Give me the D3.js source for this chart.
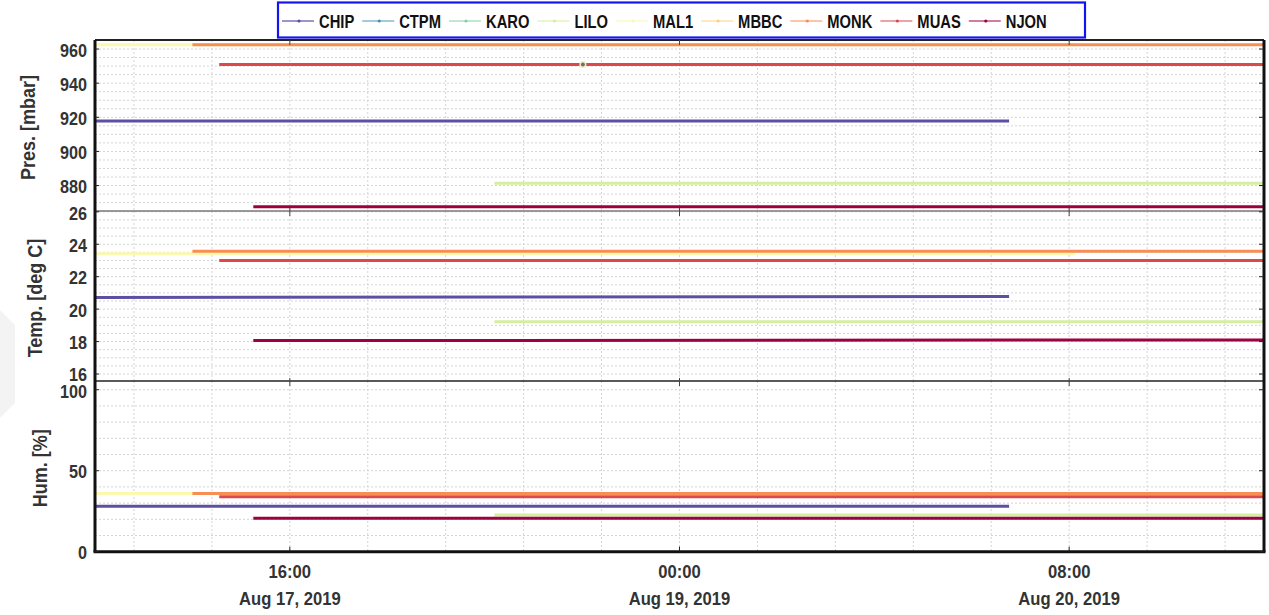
<!DOCTYPE html>
<html>
<head>
<meta charset="utf-8">
<script src="https://cdn.jsdelivr.net/npm/d3@7"></script>
<style>
  html, body { margin: 0; padding: 0; background: #fff; }
  svg { display: block; }
  text { font-family: "Liberation Sans", Arial, sans-serif; font-weight: bold; }
</style>
</head>
<body>
<svg id="chart" width="1269" height="615"></svg>
<script>
// ---- station data -------------------------------------------------------
const stations = ["CHIP", "CTPM", "KARO", "LILO", "MAL1", "MBBC", "MONK", "MUAS", "NJON"];

// first / last logged sample per station (null = nothing logged in window)
const firstTime = ["2019-08-18T12:00", null, null, "2019-08-18T20:12", "2019-08-18T12:00", null, "2019-08-18T14:00", "2019-08-18T14:33", "2019-08-18T15:15"];
const lastTime  = ["2019-08-19T06:46", null, null, "2019-08-19T12:00", "2019-08-19T08:07", null, "2019-08-19T12:00", "2019-08-19T12:00", "2019-08-19T12:00"];

// pressure [mbar] at first / last sample
const presFirst = [917.8, null, null, 881.3, 962.5, null, 962.5, 951.0, 867.6];
const presLast  = [917.8, null, null, 881.3, 962.5, null, 962.5, 951.0, 867.6];

// temperature [deg C] at first / last sample
const tempFirst = [20.72, null, null, 19.23, 23.41, null, 23.57, 23.0, 18.06];
const tempLast  = [20.78, null, null, 19.23, 23.41, null, 23.57, 23.0, 18.1];

// relative humidity [%] at first / last sample
const humFirst = [28.0, null, null, 22.7, 36.0, null, 36.0, 34.0, 20.6];
const humLast  = [28.0, null, null, 22.7, 36.0, null, 36.0, 34.0, 20.6];

// single highlighted sample on the pressure panel
const markerTime = ["2019-08-18T22:01"];
const markerPres = [951.0];

// axis ticks
const timeTicks = ["2019-08-18T16:00", "2019-08-19T00:00", "2019-08-19T08:00"];
const timeTickLabels = ["16:00", "00:00", "08:00"];
const dateTickLabels = ["Aug 17, 2019", "Aug 19, 2019", "Aug 20, 2019"];
const presTicks = [880, 900, 920, 940, 960];
const tempTicks = [16, 18, 20, 22, 24, 26];
const humTicks = [0, 50, 100];

// ---- layout -------------------------------------------------------------
const W = 1269, H = 615;
const plotLeft = 95, plotRight = 1264;
const panelTop = [40, 211, 381];
const panelBottom = [211, 381, 551.7];

const parse = d3.isoParse;
const x = d3.scaleTime()
  .domain([parse("2019-08-18T12:00"), parse("2019-08-19T12:00")])
  .range([plotLeft, plotRight]);

const panels = [
  { title: "Pres. [mbar]", first: presFirst, last: presLast, ticks: presTicks, minor: 5,
    y: d3.scaleLinear().domain([865.1, 965.3]).range([panelBottom[0], panelTop[0]]), titleX: 35 },
  { title: "Temp. [deg C]", first: tempFirst, last: tempLast, ticks: tempTicks, minor: 0.5,
    y: d3.scaleLinear().domain([15.57, 26.05]).range([panelBottom[1], panelTop[1]]), titleX: 42 },
  { title: "Hum. [%]", first: humFirst, last: humLast, ticks: humTicks, minor: 10,
    y: d3.scaleLinear().domain([0, 105.4]).range([panelBottom[2], panelTop[2]]), titleX: 47 }
];

const colors = d3.quantize(t => d3.interpolateSpectral(1 - t), stations.length);

const svg = d3.select("#chart");

// faint backdrop shape at the left edge
svg.append("polygon")
  .attr("points", [[0, 310], [15, 325], [15, 403], [0, 418]].map(p => p.join(",")).join(" "))
  .attr("fill", "#f3f3f3");

// helper: text squeezed horizontally
function label(parent, txt, px, py, size, sx, anchor, fill, rotate) {
  const g = parent.append("g")
    .attr("transform", `translate(${px},${py})` + (rotate ? ` rotate(${rotate})` : "") + ` scale(${sx},1)`);
  g.append("text")
    .attr("font-size", size)
    .attr("text-anchor", anchor)
    .attr("fill", fill)
    .text(txt);
  return g;
}

// ---- grid ---------------------------------------------------------------
const grid = svg.append("g").attr("stroke", "#d4d4d4").attr("stroke-width", 1)
  .attr("stroke-dasharray", "2,2").attr("fill", "none");

// vertical grid every 96 minutes, aligned on the labelled ticks
const gridStep = 96 * 60 * 1000;
const anchorT = parse(timeTicks[0]).getTime();
const vGrid = [];
for (let t = anchorT - gridStep * 10; t < x.domain()[1].getTime(); t += gridStep) {
  if (t > x.domain()[0].getTime()) vGrid.push(new Date(t));
}
panels.forEach((p, i) => {
  grid.selectAll(null).data(vGrid).join("line")
    .attr("x1", d => x(d)).attr("x2", d => x(d))
    .attr("y1", panelTop[i]).attr("y2", panelBottom[i]);
  const [lo, hi] = p.y.domain();
  const hVals = d3.range(Math.ceil(lo / p.minor) * p.minor, hi, p.minor);
  grid.selectAll(null).data(hVals).join("line")
    .attr("x1", plotLeft).attr("x2", plotRight)
    .attr("y1", d => p.y(d)).attr("y2", d => p.y(d));
});

// ---- series -------------------------------------------------------------
const lineGen = d3.line();
panels.forEach(p => {
  const g = svg.append("g");
  stations.forEach((s, k) => {
    if (firstTime[k] === null) return;
    const pts = [[x(parse(firstTime[k])), p.y(p.first[k])],
                 [x(parse(lastTime[k])), p.y(p.last[k])]];
    g.append("path")
      .attr("d", lineGen(pts))
      .attr("fill", "none")
      .attr("stroke", colors[k])
      .attr("stroke-width", 3);
  });
});

// highlighted sample
markerTime.forEach((t, i) => {
  const cx = x(parse(t)), cy = panels[0].y(markerPres[i]);
  svg.append("circle").attr("cx", cx).attr("cy", cy).attr("r", 3.5).attr("fill", "#f1f2c4");
  svg.append("circle").attr("cx", cx).attr("cy", cy).attr("r", 2).attr("fill", "#707070");
});

// ---- frame, ticks and labels -------------------------------------------
const frame = svg.append("g");
// panel separators
frame.append("line").attr("x1", plotLeft).attr("x2", plotRight)
  .attr("y1", panelTop[1]).attr("y2", panelTop[1]).attr("stroke", "#777").attr("stroke-width", 1.5);
frame.append("line").attr("x1", plotLeft).attr("x2", plotRight)
  .attr("y1", panelTop[2]).attr("y2", panelTop[2]).attr("stroke", "#222").attr("stroke-width", 1.5);
// outer border
frame.append("line").attr("x1", plotLeft).attr("x2", plotRight)
  .attr("y1", panelTop[0]).attr("y2", panelTop[0]).attr("stroke", "#222").attr("stroke-width", 2);
frame.append("line").attr("x1", plotLeft - 1.5).attr("x2", plotRight + 1.5)
  .attr("y1", panelBottom[2]).attr("y2", panelBottom[2]).attr("stroke", "#111").attr("stroke-width", 3);
frame.append("line").attr("x1", plotLeft).attr("x2", plotLeft)
  .attr("y1", panelTop[0]).attr("y2", panelBottom[2]).attr("stroke", "#111").attr("stroke-width", 3);
frame.append("line").attr("x1", plotRight).attr("x2", plotRight)
  .attr("y1", panelTop[0]).attr("y2", panelBottom[2]).attr("stroke", "#111").attr("stroke-width", 3);

panels.forEach((p, i) => {
  p.ticks.forEach((v, j) => {
    const ty = p.y(v);
    frame.append("line").attr("x1", plotLeft).attr("x2", plotLeft + 4)
      .attr("y1", ty).attr("y2", ty).attr("stroke", "#222");
    frame.append("line").attr("x1", plotRight - 5).attr("x2", plotRight)
      .attr("y1", ty).attr("y2", ty).attr("stroke", "#222");
    const shift = j === p.ticks.length - 1 ? 2 : 1;
    label(svg, String(v), 87, ty + shift + 6.4, 18, 0.9, "end", "#333");
  });
  timeTicks.forEach(t => {
    const tx = x(parse(t));
    frame.append("line").attr("x1", tx).attr("x2", tx)
      .attr("y1", panelTop[i] - (i ? 3 : 0)).attr("y2", panelTop[i] + 5).attr("stroke", "#444");
  });
  const cy = (panelTop[i] + panelBottom[i]) / 2;
  label(svg, p.title, p.titleX, cy + 2, 20, 0.9, "middle", "#333", -90);
});

timeTicks.forEach((t, j) => {
  const tx = x(parse(t));
  frame.append("line").attr("x1", tx).attr("x2", tx)
    .attr("y1", panelBottom[2] - 5).attr("y2", panelBottom[2]).attr("stroke", "#222");
  label(svg, timeTickLabels[j], tx, 578.3, 18.5, 0.9, "middle", "#333");
  label(svg, dateTickLabels[j], tx, 605, 18.5, 0.9, "middle", "#333");
});

// ---- legend -------------------------------------------------------------
const legend = svg.append("g");
legend.append("rect")
  .attr("x", 278).attr("y", 2.5).attr("width", 807).attr("height", 35)
  .attr("fill", "#fff").attr("stroke", "#1414f0").attr("stroke-width", 2.2);
let lx = 282;
stations.forEach((s, k) => {
  legend.append("line").attr("x1", lx).attr("x2", lx + 32).attr("y1", 21).attr("y2", 21)
    .attr("stroke", colors[k]).attr("stroke-width", 1.2);
  legend.append("circle").attr("cx", lx + 17).attr("cy", 21).attr("r", 1.6).attr("fill", colors[k]);
  const g = label(legend, s, lx + 37, 28.3, 18, 0.82, "start", "#111");
  const w = g.select("text").node().getComputedTextLength() * 0.82;
  lx += 37 + w + 8;
});
</script>
</body>
</html>
